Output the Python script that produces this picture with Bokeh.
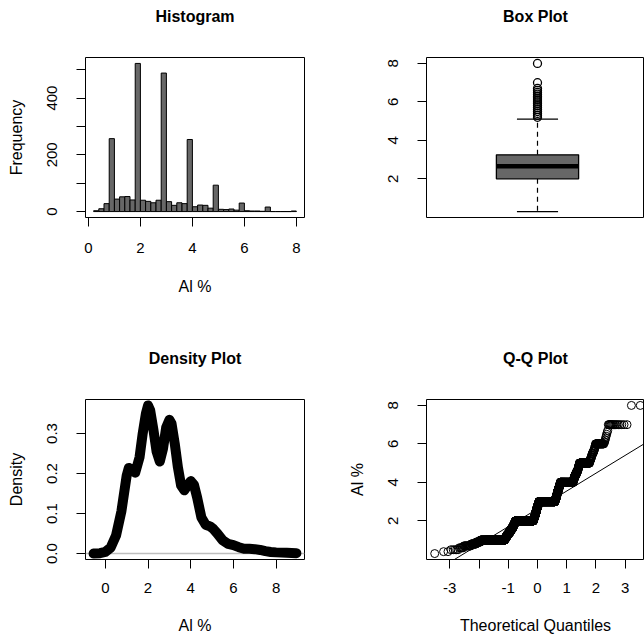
import numpy as np
from statistics import NormalDist
from bokeh.plotting import figure
from bokeh.layouts import column, row
from bokeh.models import Range1d, FixedTicker, PrintfTickFormatter, Span, Slope, Title
from bokeh.embed import file_html
from bokeh.resources import INLINE

FONT = "Liberation Sans"
BAR_GRAY = "#676767"

# ---------------- data ----------------
# Al % values (one decimal) and how often each occurs
al_values = [0.3, 0.4, 0.5, 0.6, 0.7, 0.8, 0.9, 1.0, 1.1, 1.2, 1.3, 1.4, 1.5, 1.6,
             1.7, 1.8, 1.9, 2.0, 2.1, 2.2, 2.3, 2.4, 2.5, 2.6, 2.7, 2.8, 2.9, 3.0,
             3.1, 3.2, 3.3, 3.4, 3.5, 3.6, 3.7, 3.8, 3.9, 4.0, 4.1, 4.2, 4.3, 4.4,
             4.5, 4.6, 4.7, 4.8, 4.9, 5.0, 5.1, 5.2, 5.3, 5.4, 5.5, 5.6, 5.7, 5.8,
             5.9, 6.0, 6.1, 6.2, 6.3, 6.4, 6.5, 6.6, 6.7, 6.8, 6.9, 7.0, 7.1, 7.2,
             7.3, 7.4, 7.5, 7.6, 7.7, 7.8, 7.9, 8.0]
al_counts = [1, 2, 5, 5, 13, 15, 17, 240, 22, 22, 26, 26, 27, 26,
             20, 21, 20, 502, 20, 20, 18, 18, 15, 16, 20, 20, 18, 470,
             18, 17, 11, 11, 15, 16, 14, 14, 12, 242, 9, 8, 12, 11,
             11, 11, 6, 6, 5, 88, 4, 4, 4, 3, 5, 4, 3, 2,
             2, 28, 2, 1, 1, 1, 1, 1, 1, 0, 0, 16, 0, 0,
             0, 0, 0, 0, 0, 0, 0, 2]

# box plot statistics: lower whisker, Q1, median, Q3, upper whisker
box_stats = [0.3, 2.0, 2.65, 3.25, 5.1]

# kernel density curve
dens_x = [-0.55, -0.25, 0.0, 0.25, 0.5, 0.75, 1.0, 1.1, 1.25, 1.4, 1.6, 1.75, 1.9,
          2.0, 2.1, 2.25, 2.4, 2.55, 2.7, 2.85, 3.0, 3.1, 3.25, 3.4, 3.55, 3.7,
          3.85, 4.0, 4.15, 4.3, 4.5, 4.7, 4.9, 5.05, 5.25, 5.5, 5.75, 6.0, 6.25,
          6.5, 6.75, 7.0, 7.25, 7.5, 7.75, 8.0, 8.5, 8.95]
dens_y = [0.000, 0.001, 0.004, 0.015, 0.045, 0.105, 0.195, 0.214, 0.210, 0.202,
          0.240, 0.300, 0.350, 0.370, 0.358, 0.310, 0.255, 0.230, 0.262, 0.315,
          0.334, 0.325, 0.275, 0.215, 0.170, 0.158, 0.170, 0.181, 0.172, 0.140,
          0.090, 0.072, 0.068, 0.062, 0.050, 0.033, 0.024, 0.021, 0.016, 0.012,
          0.012, 0.011, 0.009, 0.006, 0.004, 0.003, 0.002, 0.001]

# ---------------- derived ----------------
vals = np.array(al_values)
cnts = np.array(al_counts)
# histogram with right-closed bins of width 0.2 (two values per bin)
hist_left = vals[0::2] - 0.1
hist_right = vals[1::2]
hist_counts = cnts[0::2] + cnts[1::2]

sample = np.repeat(vals, cnts)
n = len(sample)
nd = NormalDist()
theo = np.array([nd.inv_cdf((i - 0.5) / n) for i in range(1, n + 1)])
outliers = [v for v, c in zip(al_values, al_counts) if c > 0 and v > box_stats[4]]

z25, z75 = nd.inv_cdf(0.25), nd.inv_cdf(0.75)
qq_slope = (box_stats[3] - box_stats[1]) / (z75 - z25)
qq_icpt = box_stats[1] - qq_slope * z25


def ext(lo, hi):
    d = (hi - lo) * 0.04
    return lo - d, hi + d


CUT = 218.0 / 222.0  # right-hand panels are cut off at the page edge


def style(p, title, xlabel=None, ylabel=None):
    p.outline_line_color = "black"
    p.outline_line_width = 1
    p.outline_line_alpha = 1.0
    p.grid.visible = False
    p.background_fill_color = "white"
    p.border_fill_color = "white"
    for ax in p.axis:
        ax.axis_line_color = None
        ax.major_tick_in = 0
        ax.major_tick_out = 9
        ax.major_tick_line_color = "black"
        ax.minor_tick_line_color = None
        ax.major_label_text_font = FONT
        ax.major_label_text_font_size = "15px"
        ax.major_label_text_color = "black"
        ax.axis_label_text_font = FONT
        ax.axis_label_text_font_size = "16px"
        ax.axis_label_text_font_style = "normal"
        ax.axis_label_text_color = "black"
    p.xaxis.major_label_standoff = 14
    p.yaxis.major_label_standoff = 19
    p.yaxis.major_label_orientation = "vertical"
    if xlabel:
        p.xaxis.axis_label = xlabel
    if ylabel:
        p.yaxis.axis_label = ylabel
        p.yaxis.axis_label_standoff = 20
    # spacer between frame and title (closest to frame), then the title
    p.add_layout(Title(text=" ", text_font_size="2px", standoff=24), "above")
    p.add_layout(Title(text=title, text_font=FONT, text_font_size="16px",
                       text_font_style="bold", text_color="black",
                       align="center", standoff=10), "above")


# ---------- Histogram ----------
hx0, hx1 = ext(hist_left[0], hist_right[-1])
hy0, hy1 = ext(0, hist_counts.max())
p1 = figure(width=322, height=330,
            x_range=Range1d(hx0, hx1), y_range=Range1d(hy0, hy1),
            min_border_left=85, min_border_right=18, min_border_top=57, min_border_bottom=113,
            output_backend="svg", toolbar_location=None)
p1.quad(left=hist_left, right=hist_right, bottom=0, top=hist_counts,
        fill_color=BAR_GRAY, line_color="black", line_width=1)
style(p1, "Histogram", "Al %", "Frequency")
p1.xaxis.ticker = FixedTicker(ticks=[0, 2, 4, 6, 8])
p1.yaxis.ticker = FixedTicker(ticks=[0, 100, 200, 300, 400, 500])
p1.yaxis.major_label_overrides = {100: "", 300: "", 500: ""}
p1.xaxis.major_label_standoff = 16
p1.xaxis.axis_label_standoff = 22

# ---------- Box plot ----------
bx0, bx1 = ext(0.5, 1.5)
vy0, vy1 = ext(sample.min(), sample.max())
p2 = figure(width=322, height=330,
            x_range=Range1d(bx0, bx0 + (bx1 - bx0) * CUT), y_range=Range1d(vy0, vy1),
            min_border_left=104, min_border_right=0, min_border_top=57, min_border_bottom=113,
            output_backend="svg", toolbar_location=None)
p2.segment(x0=[1, 1], y0=[box_stats[3], box_stats[1]], x1=[1, 1], y1=[box_stats[4], box_stats[0]],
           line_color="black", line_width=1.2, line_dash="5 4")
p2.segment(x0=[0.9, 0.9], y0=[box_stats[4], box_stats[0]], x1=[1.1, 1.1], y1=[box_stats[4], box_stats[0]],
           line_color="black", line_width=1.2)
p2.quad(left=[0.8], right=[1.2], bottom=[box_stats[1]], top=[box_stats[3]],
        fill_color=BAR_GRAY, line_color="black", line_width=1.3)
p2.segment(x0=[0.8], y0=[box_stats[2]], x1=[1.2], y1=[box_stats[2]], line_color="black", line_width=4.5)
p2.scatter(x=[1] * len(outliers), y=outliers, marker="circle", size=8,
           fill_color=None, line_color="black", line_width=1.3)
style(p2, "Box Plot")
p2.xaxis.visible = False
p2.yaxis.ticker = FixedTicker(ticks=[2, 4, 6, 8])

# ---------- Density ----------
dx0, dx1 = ext(min(dens_x), max(dens_x))
dy0, dy1 = ext(0, max(dens_y))
p3 = figure(width=322, height=309,
            x_range=Range1d(dx0, dx1), y_range=Range1d(dy0, dy1),
            min_border_left=85, min_border_right=18, min_border_top=69, min_border_bottom=80,
            output_backend="svg", toolbar_location=None)
zero = Span(location=0, dimension="width", line_color="#BEBEBE", line_width=1.5, level="underlay")
p3.add_layout(zero)
p3.line(dens_x, dens_y, line_color="black", line_width=10, line_join="round", line_cap="round")
style(p3, "Density Plot", "Al %", "Density")
p3.xaxis.ticker = FixedTicker(ticks=[0, 2, 4, 6, 8])
p3.yaxis.ticker = FixedTicker(ticks=[0.0, 0.1, 0.2, 0.3])
p3.yaxis.formatter = PrintfTickFormatter(format="%.1f")
p3.xaxis.axis_label_standoff = 21

# ---------- Q-Q ----------
qx0, qx1 = ext(theo.min(), theo.max())
p4 = figure(width=322, height=309,
            x_range=Range1d(qx0, qx0 + (qx1 - qx0) * CUT), y_range=Range1d(vy0, vy1),
            min_border_left=104, min_border_right=0, min_border_top=69, min_border_bottom=80,
            output_backend="svg", toolbar_location=None)
p4.scatter(x=theo, y=sample, marker="circle", size=8, fill_color=None,
           line_color="black", line_width=1)
p4.add_layout(Slope(gradient=qq_slope, y_intercept=qq_icpt, line_color="black", line_width=1))
style(p4, "Q-Q Plot", "Theoretical Quantiles", "Al %")
p4.xaxis.ticker = FixedTicker(ticks=[-3, -2, -1, 0, 1, 2, 3])
p4.xaxis.major_label_overrides = {-3: "-3", -2: "", -1: "-1"}
p4.yaxis.ticker = FixedTicker(ticks=[2, 4, 6, 8])
p4.xaxis.axis_label_standoff = 21

layout = column(row(p1, p2), row(p3, p4))
open("out.html", "w").write(file_html(layout, INLINE))
